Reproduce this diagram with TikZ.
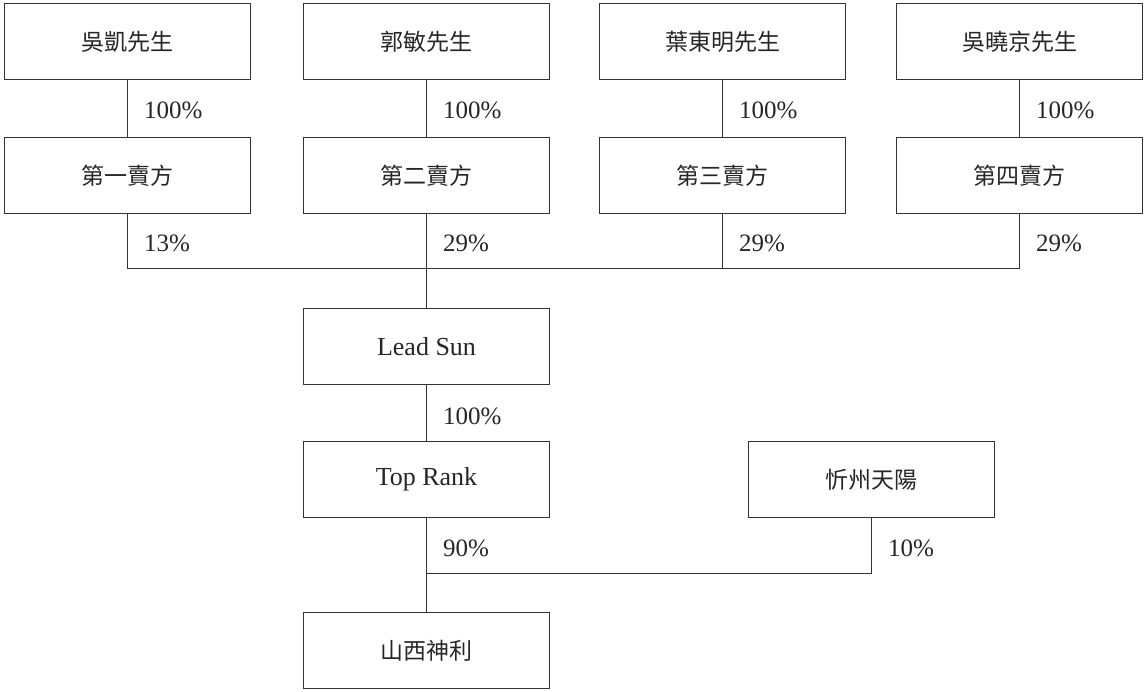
\documentclass[tikz,border=0pt]{standalone}
\usepackage{fontspec}
\setmainfont{Liberation Serif}
\newfontfamily\cjk{Noto Sans CJK TC}
\begin{document}
\begin{tikzpicture}[x=1pt,y=-1pt,
  box/.style={draw=black!80, line width=1pt, minimum width=246pt, minimum height=76pt, inner sep=0pt, font=\fontsize{23}{27}\selectfont, text=black!85},
  latinbox/.style={box, font=\fontsize{26}{30}\selectfont},
  pct/.style={anchor=west, inner sep=0pt, font=\fontsize{25}{29}\selectfont, text=black!85},
  link/.style={draw=black!80, line width=1pt}]
\useasboundingbox (0,0) rectangle (1145,691);
% top row
\node[box] (p1) at (127.5,41.5) {\cjk 吳凱先生};
\node[box] (p2) at (426.5,41.5) {\cjk 郭敏先生};
\node[box] (p3) at (722.5,41.5) {\cjk 葉東明先生};
\node[box] (p4) at (1019.5,41.5) {\cjk 吳曉京先生};
% second row
\node[box] (s1) at (127.5,175.5) {\cjk 第一賣方};
\node[box] (s2) at (426.5,175.5) {\cjk 第二賣方};
\node[box] (s3) at (722.5,175.5) {\cjk 第三賣方};
\node[box] (s4) at (1019.5,175.5) {\cjk 第四賣方};
% lower
\node[latinbox] (lead) at (426.5,346.5) {Lead Sun};
\node[latinbox] (top) at (426.5,479.5) {Top Rank};
\node[box] (xin) at (871.5,479.5) {\cjk 忻州天陽};
\node[box] (shanxi) at (426.5,650.5) {\cjk 山西神利};
% connectors
\draw[link] (p1) -- (s1);
\draw[link] (p2) -- (s2);
\draw[link] (p3) -- (s3);
\draw[link] (p4) -- (s4);
\coordinate (bus) at (426.5,268.5);
\draw[link] (s1.south) |- (bus) -| (s4.south);
\draw[link] (s3.south) -- (s3.south |- bus);
\draw[link] (s2.south) -- (lead.north);
\draw[link] (lead) -- (top);
\coordinate (bus2) at (426.5,573.5);
\draw[link] (top.south) -- (shanxi.north);
\draw[link] (xin.south) |- (bus2);
% labels
\node[pct] (l1) at (144,110) {100\%};
\node[pct] (l2) at (443,110) {100\%};
\node[pct] (l3) at (739,110) {100\%};
\node[pct] (l4) at (1036,110) {100\%};
\node[pct] (m1) at (144,243) {13\%};
\node[pct] (m2) at (443,243) {29\%};
\node[pct] (m3) at (739,243) {29\%};
\node[pct] (m4) at (1036,243) {29\%};
\node[pct] (n1) at (443,416) {100\%};
\node[pct] (n2) at (443,548) {90\%};
\node[pct] (n3) at (888,548) {10\%};
\end{tikzpicture}
\end{document}
